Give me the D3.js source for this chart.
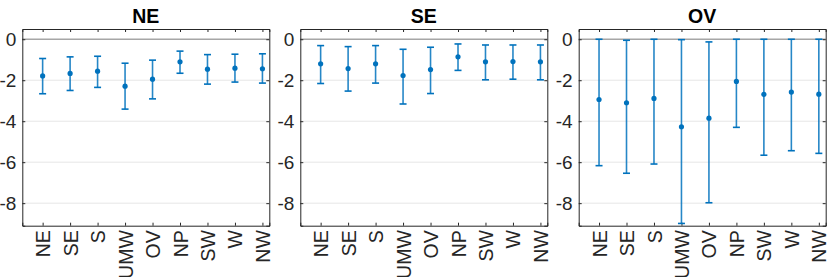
<!DOCTYPE html>
<html>
<head>
<meta charset="utf-8">
<script src="https://cdn.jsdelivr.net/npm/d3@7"></script>
<style>
  body { margin: 0; background: #fff; }
  svg { display: block; font-family: "Liberation Sans", Arial, sans-serif; }
</style>
</head>
<body>
<div id="chart"></div>
<script>
// regions (x categories) and the three panels
const regions = ['NE', 'SE', 'S', 'UMW', 'OV', 'NP', 'SW', 'W', 'NW'];
const panels = ['NE', 'SE', 'OV'];
const yTicks = [0, -2, -4, -6, -8];

// point estimates and interval ends
const neMid = [-1.79, -1.67, -1.56, -2.29, -1.95, -1.10, -1.46, -1.41, -1.44];
const neLow = [-2.66, -2.50, -2.35, -3.41, -2.91, -1.66, -2.19, -2.09, -2.14];
const neHigh = [-0.94, -0.86, -0.83, -1.17, -1.02, -0.58, -0.75, -0.73, -0.71];

const seMid = [-1.20, -1.43, -1.20, -1.77, -1.48, -0.86, -1.10, -1.09, -1.10];
const seLow = [-2.16, -2.53, -2.14, -3.16, -2.65, -1.52, -1.98, -1.95, -1.98];
const seHigh = [-0.31, -0.36, -0.31, -0.49, -0.39, -0.23, -0.28, -0.28, -0.28];

const ovMid = [-2.94, -3.10, -2.89, -4.27, -3.85, -2.06, -2.69, -2.58, -2.68];
const ovLow = [-6.17, -6.54, -6.09, -8.99, -7.98, -4.30, -5.66, -5.44, -5.57];
const ovHigh = [0.00, -0.05, 0.00, -0.02, -0.13, 0.00, 0.00, 0.00, 0.00];

const series = [
  { mid: neMid, low: neLow, high: neHigh },
  { mid: seMid, low: seLow, high: seHigh },
  { mid: ovMid, low: ovLow, high: ovHigh },
];

const W = 830, H = 277;
const panelLeft = [22.3, 300.3, 578.7];
const pw = 247, plotTop = 29, ph = 196.7;
const blue = '#0072BD';
const axisColor = '#262626';

const svg = d3.select('#chart').append('svg')
  .attr('width', W).attr('height', H);

const x = d3.scaleLinear().domain([0.26, 9.25]).range([0, pw]);
const y = d3.scaleLinear().domain([-9.1, 0.5]).range([ph, 0]);

panels.forEach((name, p) => {
  const s = series[p];
  const g = svg.append('g').attr('transform', `translate(${panelLeft[p]},${plotTop})`);

  // grid
  g.append('g').selectAll('line').data(yTicks.filter(t => t !== 0)).join('line')
    .attr('x1', 0).attr('x2', pw)
    .attr('y1', d => y(d)).attr('y2', d => y(d))
    .attr('stroke', '#e6e6e6').attr('stroke-width', 1);

  // zero reference line
  g.append('line')
    .attr('x1', 0).attr('x2', pw).attr('y1', y(0)).attr('y2', y(0))
    .attr('stroke', '#a6a6a6').attr('stroke-width', 1.6);

  // axes (ticks inward, mirrored)
  const xAxisB = d3.axisBottom(x).tickValues(d3.range(1, 10)).tickSize(-3).tickFormat((d, i) => regions[i]);
  const xAxisT = d3.axisTop(x).tickValues(d3.range(1, 10)).tickSize(-3).tickFormat('');
  const yAxisL = d3.axisLeft(y).tickValues(yTicks).tickSize(-3).tickFormat(d => d === 0 ? '0' : '-' + Math.abs(d));
  const yAxisR = d3.axisRight(y).tickValues(yTicks).tickSize(-3).tickFormat('');

  const gb = g.append('g').attr('transform', `translate(0,${ph})`).call(xAxisB);
  gb.attr('font-size', null);
  gb.selectAll('text')
    .attr('transform', 'rotate(-90)')
    .attr('text-anchor', 'end')
    .attr('x', -4.5).attr('y', 0).attr('dy', '0.36em')
    .attr('font-size', 19.5).attr('fill', axisColor);
  g.append('g').call(xAxisT);
  const gl = g.append('g').call(yAxisL);
  gl.attr('font-size', null);
  gl.selectAll('text').attr('x', -6).attr('font-size', 19).attr('fill', axisColor);
  g.append('g').attr('transform', `translate(${pw},0)`).call(yAxisR);

  g.selectAll('.domain').attr('stroke', axisColor).attr('stroke-width', 1);
  g.selectAll('.tick line').attr('stroke', axisColor);

  // error bars
  const bars = g.append('g').selectAll('g').data(regions).join('g');
  bars.append('line')
    .attr('x1', (d, i) => x(i + 1)).attr('x2', (d, i) => x(i + 1))
    .attr('y1', (d, i) => y(s.high[i])).attr('y2', (d, i) => y(s.low[i]))
    .attr('stroke', blue).attr('stroke-width', 1.6).attr('stroke-opacity', 0.85);
  ['high', 'low'].forEach(k => {
    bars.append('line')
      .attr('x1', (d, i) => x(i + 1) - 3.5).attr('x2', (d, i) => x(i + 1) + 3.5)
      .attr('y1', (d, i) => y(s[k][i])).attr('y2', (d, i) => y(s[k][i]))
      .attr('stroke', blue).attr('stroke-width', 1.6);
  });
  bars.append('circle')
    .attr('cx', (d, i) => x(i + 1)).attr('cy', (d, i) => y(s.mid[i]))
    .attr('r', 2.6).attr('fill', blue);

  // title
  svg.append('text')
    .attr('x', panelLeft[p] + pw / 2).attr('y', 22.5)
    .attr('text-anchor', 'middle')
    .attr('font-size', 19.5).attr('font-weight', 'bold')
    .attr('fill', '#000')
    .text(name);
});
</script>
</body>
</html>
